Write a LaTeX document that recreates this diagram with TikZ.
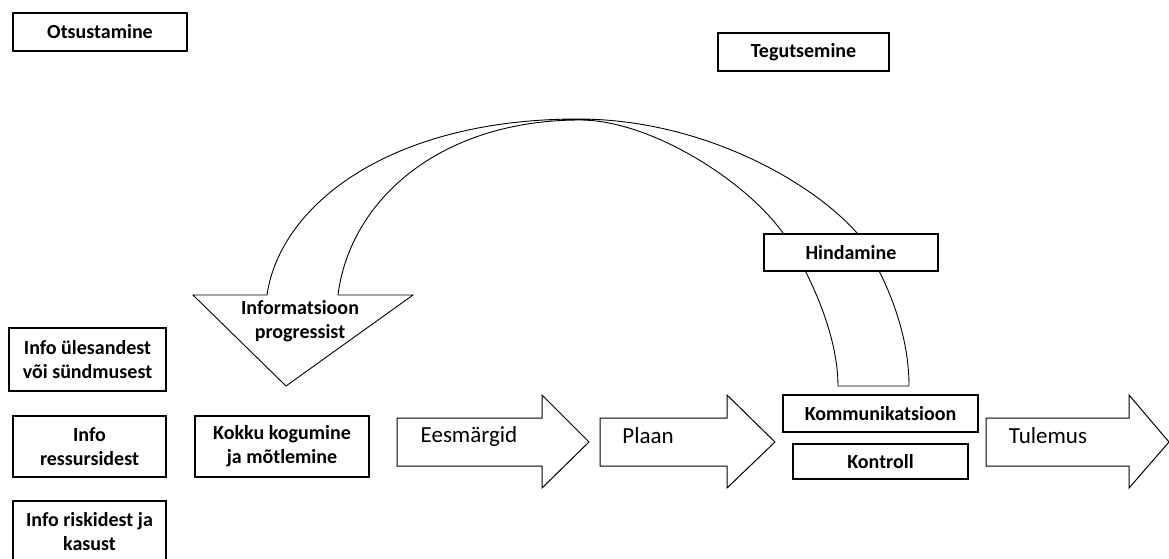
\documentclass[tikz,border=0pt]{standalone}
\usepackage{fontspec}
\setmainfont{Carlito}
\begin{document}
\begin{tikzpicture}[x=1pt,y=-1pt,
  box/.style={draw, line width=1.2pt, fill=white, inner sep=0pt, align=center,
    font=\bfseries\fontsize{20}{24}\selectfont},
  boxtext/.style={inner sep=0pt, align=center, font=\bfseries\fontsize{20}{24}\selectfont},
  arrowtext/.style={inner sep=0pt, font=\fontsize{23}{28}\selectfont},
  bigarrow/.style={draw, line width=1pt, line join=miter},
  curve/.style={draw, line width=0.9pt}]
\useasboundingbox (0,0) rectangle (1169,558);
\clip (0,0) rectangle (1169,558);

% top labels
\node[box, minimum width=174pt, minimum height=38pt] (ots) at (100,32) {Otsustamine};
\node[box, minimum width=171pt, minimum height=38pt] (teg) at (803.5,52) {Tegutsemine};

% big curved arrow
\path[curve] (267,295) .. controls (280,205) and (390,119) .. (578,119)
  .. controls (700,119) and (810,180) .. (857,233)
  .. controls (885,275) and (909,330) .. (909,386)
  -- (838,386)
  .. controls (838,330) and (805,265) .. (783,233)
  .. controls (745,180) and (650,120) .. (580,120)
  .. controls (440,120) and (350,200) .. (338,295);
\path[curve, line join=miter] (338,295) -- (413,295) -- (286,386) -- (193,295) -- (267,295);
\node[boxtext] (info) at (300,321) {Informatsioon\\progressist};

\node[box, minimum width=174pt, minimum height=37pt] (hind) at (851,252.5) {Hindamine};

% left column
\node[box, minimum width=157pt, minimum height=63pt] (yl) at (87.5,359.5) {Info ülesandest\\või sündmusest};
\node[box, minimum width=153pt, minimum height=61pt] (res) at (89.5,446.5) {Info\\ressursidest};
\node[box, minimum width=153pt, minimum height=61pt] (risk) at (89.5,531.5) {Info riskidest ja\\kasust};
\node[box, minimum width=174pt, minimum height=61pt] (kokku) at (282,446.5) {Kokku kogumine\\ja mõtlemine};

% block arrows
\path[bigarrow] (397,418) -- (542,418) -- (542,395) -- (589,442) -- (542,488) -- (542,466) -- (397,466) -- cycle;
\node[arrowtext] (ees) at (469,436) {Eesmärgid};
\path[bigarrow] (600,418) -- (727,418) -- (727,395) -- (775,442) -- (727,488) -- (727,466) -- (600,466) -- cycle;
\node[arrowtext] (plaan) at (648,436) {Plaan};
\path[bigarrow] (986,418) -- (1129,418) -- (1129,395) -- (1169,442) -- (1129,488) -- (1129,466) -- (986,466) -- cycle;
\node[arrowtext] (tul) at (1048,436) {Tulemus};

% right boxes
\node[box, minimum width=195pt, minimum height=37pt] (komm) at (880.5,413.5) {Kommunikatsioon};
\node[box, minimum width=175pt, minimum height=35pt] (kont) at (880.5,461.5) {Kontroll};
\end{tikzpicture}
\end{document}
